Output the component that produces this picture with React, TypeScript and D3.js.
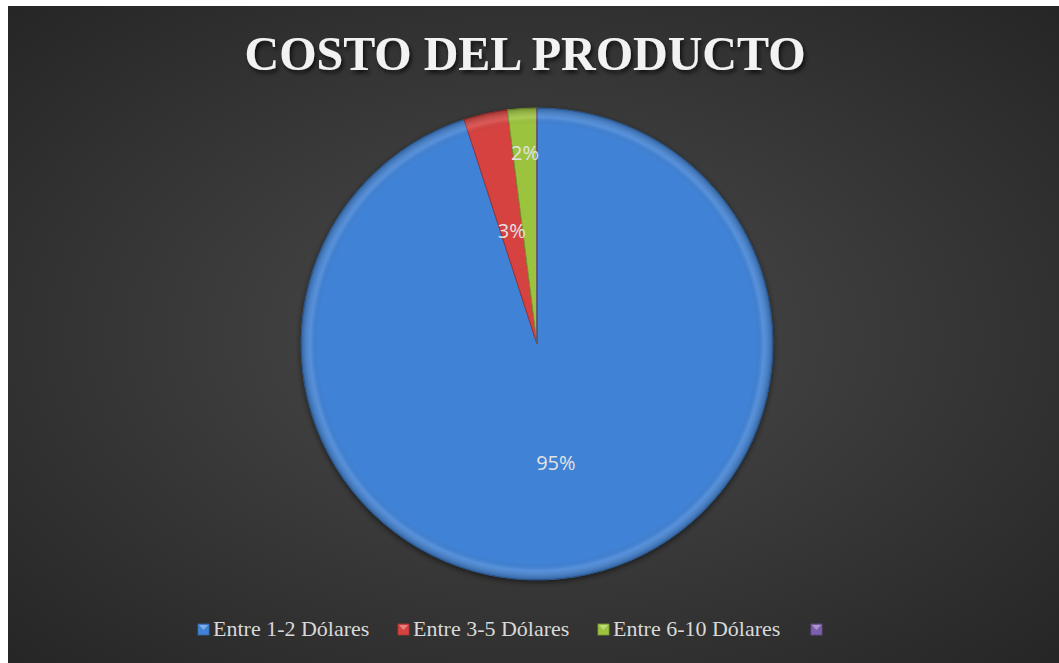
import { useEffect, useRef } from "react";
import * as d3 from "d3";

const categories = ["Entre 1-2 Dólares", "Entre 3-5 Dólares", "Entre 6-10 Dólares", ""];
const values = [95, 3, 2, 0];
const labels = ["95%", "3%", "2%", ""];
const colors = ["#4082d5", "#d6423f", "#9cc33d", "#7e5fae"];

function App() {
  const ref = useRef<SVGSVGElement | null>(null);

  useEffect(() => {
    const width = 1051;
    const height = 657;
    const cx = 529;
    const cy = 338;
    const radius = 236;

    const svg = d3.select(ref.current);
    svg.selectAll("*").remove();

    const defs = svg.append("defs");

    // background radial gradient
    const bg = defs
      .append("radialGradient")
      .attr("id", "bg")
      .attr("cx", "50%")
      .attr("cy", "50%")
      .attr("r", "70%");
    bg.append("stop").attr("offset", "0%").attr("stop-color", "#4b4b4b");
    bg.append("stop").attr("offset", "100%").attr("stop-color", "#262626");

    // bevel overlay for slices
    const bevel = defs
      .append("radialGradient")
      .attr("id", "bevel")
      .attr("gradientUnits", "userSpaceOnUse")
      .attr("cx", 0)
      .attr("cy", 0)
      .attr("r", radius);
    bevel.append("stop").attr("offset", "0%").attr("stop-color", "#000").attr("stop-opacity", 0);
    bevel.append("stop").attr("offset", "93%").attr("stop-color", "#000").attr("stop-opacity", 0);
    bevel.append("stop").attr("offset", "96%").attr("stop-color", "#fff").attr("stop-opacity", 0.12);
    bevel.append("stop").attr("offset", "100%").attr("stop-color", "#000").attr("stop-opacity", 0.25);

    const shadow = defs
      .append("filter")
      .attr("id", "shadow")
      .attr("x", "-20%")
      .attr("y", "-20%")
      .attr("width", "140%")
      .attr("height", "140%");
    shadow
      .append("feDropShadow")
      .attr("dx", 0)
      .attr("dy", 2)
      .attr("stdDeviation", 3)
      .attr("flood-color", "#000")
      .attr("flood-opacity", 0.6);

    const textShadow = defs.append("filter").attr("id", "tshadow");
    textShadow
      .append("feDropShadow")
      .attr("dx", 2)
      .attr("dy", 3)
      .attr("stdDeviation", 2)
      .attr("flood-color", "#000")
      .attr("flood-opacity", 0.7);

    svg
      .append("rect")
      .attr("width", width)
      .attr("height", height)
      .attr("fill", "url(#bg)");

    // Title
    svg
      .append("text")
      .attr("x", 517)
      .attr("y", 64)
      .attr("text-anchor", "middle")
      .attr("font-family", "'Liberation Serif', 'Times New Roman', serif")
      .attr("font-weight", "bold")
      .attr("font-size", 48)
      .attr("fill", "#f2f2f2")
      .attr("filter", "url(#tshadow)")
      .text("COSTO DEL PRODUCTO");

    const pie = d3
      .pie<number>()
      .sort(null)
      .value((d) => d);
    const arcs = pie(values);
    const arc = d3.arc<d3.PieArcDatum<number>>().innerRadius(0).outerRadius(radius);

    const g = svg.append("g").attr("transform", `translate(${cx}, ${cy})`);

    g.append("circle")
      .attr("r", radius)
      .attr("fill", "#222")
      .attr("filter", "url(#shadow)");

    g.selectAll("path.slice")
      .data(arcs)
      .enter()
      .append("path")
      .attr("class", "slice")
      .attr("d", arc)
      .attr("fill", (_, i) => colors[i])
      .attr("stroke", (_, i) => d3.color(colors[i])!.darker(0.8).toString())
      .attr("stroke-width", 1);

    g.selectAll("path.bevel")
      .data(arcs)
      .enter()
      .append("path")
      .attr("class", "bevel")
      .attr("d", arc)
      .attr("fill", "url(#bevel)");

    // label radius per slice (Excel best fit)
    const labelFrac = [0.51, 0.49, 0.81, 0.5];
    g.selectAll("text.lbl")
      .data(arcs)
      .enter()
      .append("text")
      .attr("class", "lbl")
      .attr("transform", (d, i) => {
        const a = (d.startAngle + d.endAngle) / 2;
        const r = radius * labelFrac[i];
        return `translate(${Math.sin(a) * r}, ${-Math.cos(a) * r})`;
      })
      .attr("text-anchor", "middle")
      .attr("dy", "0.35em")
      .attr("font-family", "'Open Sans', 'Noto Sans', sans-serif")
      .attr("font-size", 20)
      .attr("fill", "#e3e3e3")
      .text((_, i) => labels[i]);

    // Legend
    const legendX = [190, 390, 590, 803];
    const legend = svg
      .append("g")
      .selectAll("g")
      .data(categories)
      .enter()
      .append("g")
      .attr("transform", (_, i) => `translate(${legendX[i]}, 630)`);
    legend
      .append("rect")
      .attr("x", 0)
      .attr("y", -12)
      .attr("width", 11)
      .attr("height", 11)
      .attr("fill", (_, i) => colors[i])
      .attr("stroke", (_, i) => d3.color(colors[i])!.darker(0.6).toString())
      .attr("stroke-width", 0.8);
    legend
      .append("path")
      .attr("d", "M1,-11 L10,-11 L5.5,-6 Z")
      .attr("fill", "#fff")
      .attr("opacity", 0.35);
    legend
      .append("text")
      .attr("x", 15)
      .attr("y", 0)
      .attr("font-family", "'Liberation Serif', 'Times New Roman', serif")
      .attr("font-size", 22)
      .attr("fill", "#d9d9d9")
      .text((d) => d);
  }, []);

  return (
    <svg
      ref={ref}
      width={1051}
      height={657}
      style={{ display: "block", position: "absolute", left: 8, top: 6 }}
    />
  );
}

export default App;
